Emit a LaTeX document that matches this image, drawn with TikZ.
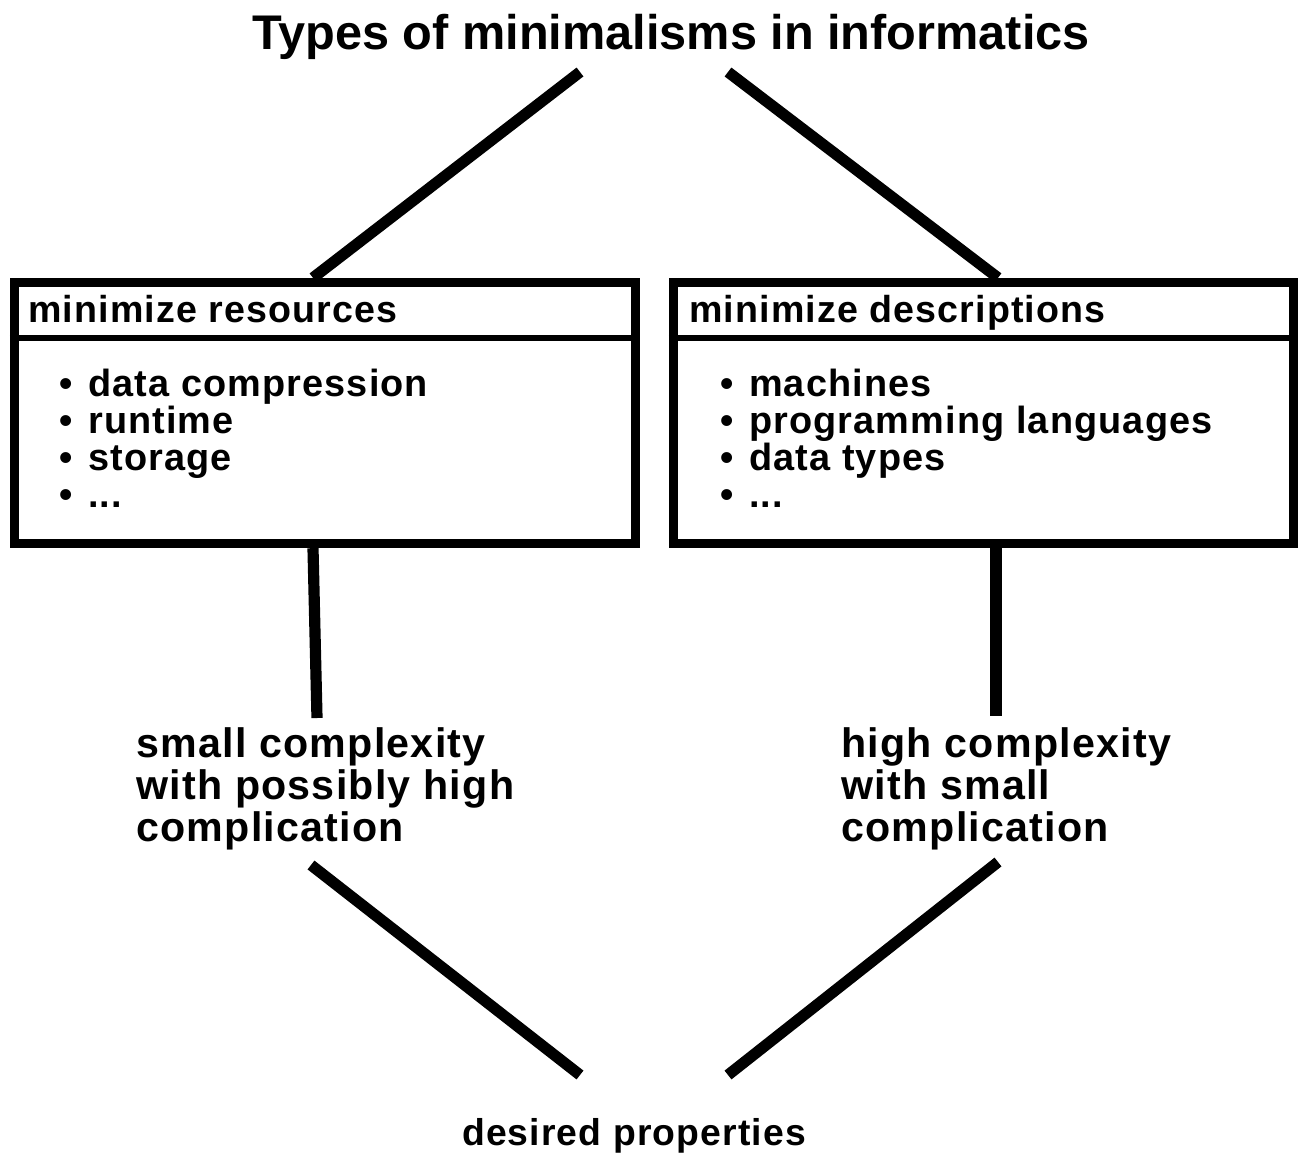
\documentclass[tikz,border=0pt]{standalone}
\usepackage{fontspec}
\setmainfont{Liberation Sans}
\newfontfamily\spacedfont[LetterSpace=3]{Liberation Sans}
\newcommand\itemdot{•\hspace{3pt} }
\begin{document}
\begin{tikzpicture}[x=0.75pt,y=-0.75pt,
  conn/.style={line width=8.4pt},
  box/.style={draw,line width=7pt,minimum height=195.75pt,inner sep=0pt},
  divider/.style={line width=3.9pt},
  titletext/.style={inner sep=0pt,anchor=base,font=\fontsize{36.5}{40}\bfseries},
  headtext/.style={inner sep=0pt,anchor=base west,font=\spacedfont\fontsize{28.2}{32}\bfseries},
  itemtext/.style={inner sep=0pt,anchor=base west,font=\spacedfont\fontsize{28.4}{32}\bfseries},
  labeltext/.style={inner sep=0pt,anchor=base west,align=left,font=\spacedfont\fontsize{30.9}{31.5}\bfseries},
  foottext/.style={inner sep=0pt,anchor=base,font=\spacedfont\fontsize{28}{32}\bfseries}]
\useasboundingbox (0,0) rectangle (1302,1156);

% title
\node[titletext] (title) at (671,50) {Types of minimalisms in informatics};

% the two boxes
\node[box,minimum width=465.75pt] (boxL) at (325,413) {};
\node[box,minimum width=465pt] (boxR) at (983.5,413) {};
\coordinate (divy) at (0,338);
\draw[divider] (boxL.west |- divy) -- (boxL.east |- divy);
\draw[divider] (boxR.west |- divy) -- (boxR.east |- divy);

\node[headtext] (headL) at (28,322) {minimize resources};
\node[headtext] (headR) at (689,322) {minimize descriptions};

\node[itemtext] (l1) at (59,396) {\itemdot data compression};
\node[itemtext] (l2) at (59,433) {\itemdot runtime};
\node[itemtext] (l3) at (59,470) {\itemdot storage};
\node[itemtext] (l4) at (59,507) {\itemdot ...};

\node[itemtext] (r1) at (720,396) {\itemdot machines};
\node[itemtext] (r2) at (720,433) {\itemdot programming languages};
\node[itemtext] (r3) at (720,470) {\itemdot data types};
\node[itemtext] (r4) at (720,507) {\itemdot ...};

% properties (anchored at the baseline of the last line)
\node[labeltext] (propL) at (136,841) {small complexity\\with possibly high\\complication};
\node[labeltext] (propR) at (841,841) {high complexity\\with small\\complication};

\node[foottext] (foot) at (634,1145) {desired properties};

% connector end points
\coordinate (tL) at (580,72);
\coordinate (tR) at (728,72);
\coordinate (xL) at (313,0);
\coordinate (xR) at (998,0);
\coordinate (vL) at (317,718);
\coordinate (vR) at (996,716);
\coordinate (pL) at (311,865);
\coordinate (pR) at (998,862);
\coordinate (fL) at (580,1075);
\coordinate (fR) at (728,1075);

\draw[conn] (tL) -- (xL |- boxL.north);
\draw[conn] (tR) -- (xR |- boxR.north);
\draw[conn] (boxL.south -| xL) -- (vL);
\draw[conn] (boxR.south -| vR) -- (vR);
\draw[conn] (pL) -- (fL);
\draw[conn] (pR) -- (fR);
\end{tikzpicture}
\end{document}
